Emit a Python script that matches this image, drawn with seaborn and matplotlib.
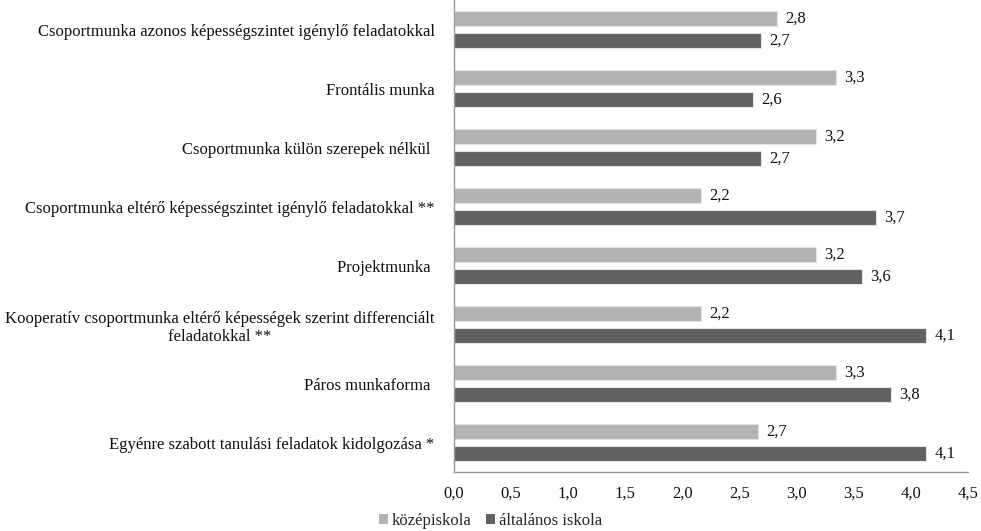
import pandas as pd
import matplotlib
matplotlib.use("Agg")
import matplotlib.pyplot as plt
from matplotlib.patches import Patch
import seaborn as sns

# Data
categories = [
    "Csoportmunka azonos képességszintet igénylő feladatokkal",
    "Frontális munka",
    "Csoportmunka külön szerepek nélkül ",
    "Csoportmunka eltérő képességszintet igénylő feladatokkal **",
    "Projektmunka ",
    "Kooperatív csoportmunka eltérő képességek szerint differenciált\nfeladatokkal **",
    "Páros munkaforma ",
    "Egyénre szabott tanulási feladatok kidolgozása *",
]
kozepiskola = [2.83, 3.34, 3.17, 2.16, 3.17, 2.16, 3.34, 2.66]
altalanos = [2.69, 2.62, 2.69, 3.69, 3.57, 4.13, 3.82, 4.13]
series = ["középiskola", "általános iskola"]
colors = ["#b3b3b3", "#616161"]
xticks = [0.0, 0.5, 1.0, 1.5, 2.0, 2.5, 3.0, 3.5, 4.0, 4.5]

df = pd.DataFrame({
    "kategoria": categories * 2,
    "ertek": kozepiskola + altalanos,
    "iskola": [series[0]] * len(categories) + [series[1]] * len(categories),
})

sns.set_style("white")
plt.rcParams["font.family"] = ["Liberation Serif", "DejaVu Serif"]
plt.rcParams["font.size"] = 12

fig = plt.figure(figsize=(9.81, 5.31), dpi=100)
ax = fig.add_axes([0.4628, 0.111, 0.987 - 0.4628, 0.889])

sns.barplot(data=df, y="kategoria", x="ertek", hue="iskola", hue_order=series,
            palette=colors, orient="h", width=0.746, gap=0.32,
            edgecolor="#e3e3e3", linewidth=0.8, legend=False, ax=ax)

for cont in ax.containers:
    ax.bar_label(cont, labels=[f"{v:.1f}".replace(".", ",") for v in cont.datavalues],
                 padding=6, fontsize=12, color="#111111")

ax.set_xlim(0, 4.5)
ax.set_ylim(7.5, -0.5)
ax.set_xticks(xticks)
ax.set_xticklabels([f"{t:.1f}".replace(".", ",") for t in xticks])
ax.set_xlabel("")
ax.set_ylabel("")
ax.tick_params(axis="x", length=0, pad=10, labelsize=12, colors="#111111")
ax.tick_params(axis="y", length=0, pad=14, labelsize=12, colors="#111111")
for lab in ax.get_yticklabels():
    lab.set_multialignment("center")

for side in ["top", "right"]:
    ax.spines[side].set_visible(False)
for side in ["left", "bottom"]:
    ax.spines[side].set_color("#9a9a9a")
    ax.spines[side].set_linewidth(1)

handles = [Patch(facecolor=c, edgecolor="none") for c in colors]
fig.legend(handles, series, loc="lower center", bbox_to_anchor=(0.5, -0.025),
           ncol=2, frameon=False, handlelength=0.55, handleheight=0.55,
           handletextpad=0.2, columnspacing=0.9, fontsize=12)

fig.savefig("out.png", dpi=100)
